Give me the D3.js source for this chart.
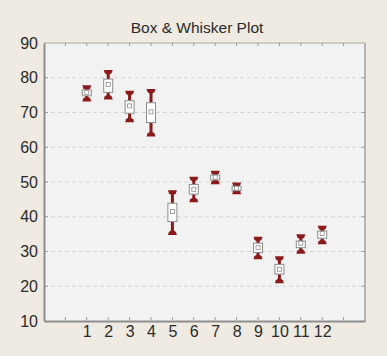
<!DOCTYPE html>
<html>
<head>
<meta charset="utf-8">
<script src="https://cdn.jsdelivr.net/npm/d3@7"></script>
<style>
  html, body { margin: 0; padding: 0; background: #EFEBE2; }
  svg { display: block; }
  text { font-family: "Liberation Sans", Arial, sans-serif; }
</style>
</head>
<body>
<svg id="chart" width="387" height="356"></svg>
<script>
// Groups and their five-number summaries
const groups      = [1, 2, 3, 4, 5, 6, 7, 8, 9, 10, 11, 12];
const whiskerLow  = [73.6, 74.2, 67.6, 63.5, 35.2, 44.6, 49.8, 46.9, 28.2, 21.3, 29.8, 32.5];
const boxLow      = [74.8, 75.8, 69.8, 67.1, 38.6, 46.5, 50.6, 47.5, 29.7, 23.5, 31.1, 33.8];
const medians     = [75.8, 78.1, 71.9, 70.2, 41.5, 47.9, 51.4, 48.2, 31.1, 24.9, 32.4, 35.2];
const boxHigh     = [76.5, 79.6, 73.4, 72.8, 43.9, 49.3, 52.0, 48.8, 32.4, 26.3, 33.0, 35.9];
const whiskerHigh = [77.4, 81.8, 75.8, 76.3, 47.2, 51.1, 52.8, 49.4, 33.8, 28.2, 34.5, 37.0];
const yTicks      = [10, 20, 30, 40, 50, 60, 70, 80, 90];
const xTicks      = [0, 1, 2, 3, 4, 5, 6, 7, 8, 9, 10, 11, 12, 13];

const title = "Box & Whisker Plot";

const svg = d3.select("#chart");
const L = 44, R = 365, T = 43, B = 321;

const x = d3.scaleLinear().domain([-1, 14]).range([L, R]);
const y = d3.scaleLinear().domain([10, 90]).range([B, T]);

// plot area
svg.append("rect")
  .attr("x", L).attr("y", T).attr("width", R - L).attr("height", B - T)
  .attr("fill", "#F2F2F2");

// horizontal dashed grid
svg.append("g").selectAll("line")
  .data(yTicks.filter(v => v > 10 && v < 90))
  .join("line")
  .attr("x1", L).attr("x2", R)
  .attr("y1", d => y(d)).attr("y2", d => y(d))
  .attr("stroke", "#D4D4D4").attr("stroke-width", 1)
  .attr("stroke-dasharray", "4,3");

// frame: top and right lighter, axes heavier
svg.append("line").attr("x1", L).attr("x2", R).attr("y1", T).attr("y2", T)
  .attr("stroke", "#A8A8A8").attr("stroke-width", 1);
svg.append("line").attr("x1", R).attr("x2", R).attr("y1", T).attr("y2", B)
  .attr("stroke", "#A0A0A0").attr("stroke-width", 1.5);

// axes
const yAxis = d3.axisLeft(y).tickValues(yTicks).tickSize(0).tickPadding(6);
const gy = svg.append("g").attr("transform", `translate(${L},0)`).call(yAxis);
gy.select(".domain").attr("stroke", "#8E8E8E").attr("stroke-width", 2);
gy.selectAll("text").attr("font-size", 16).attr("fill", "#2A2A2A");

const xAxis = d3.axisBottom(x).tickValues(xTicks)
  .tickFormat(d => (d >= 1 && d <= 12) ? String(d) : "")
  .tickSize(0).tickPadding(5);
const gx = svg.append("g").attr("transform", `translate(0,${B})`).call(xAxis);
gx.select(".domain").attr("stroke", "#8E8E8E").attr("stroke-width", 2);
gx.selectAll("text").attr("font-size", 16).attr("fill", "#2A2A2A");

// small inward tick marks on all four sides
const tickCol = "#9A9A9A";
svg.append("g").selectAll("line").data(xTicks).join("line")
  .attr("x1", d => x(d)).attr("x2", d => x(d))
  .attr("y1", B - 1).attr("y2", B - 4)
  .attr("stroke", tickCol);
svg.append("g").selectAll("line").data(xTicks).join("line")
  .attr("x1", d => x(d)).attr("x2", d => x(d))
  .attr("y1", T).attr("y2", T + 3)
  .attr("stroke", tickCol);
svg.append("g").selectAll("line").data(yTicks.slice(1, -1)).join("line")
  .attr("x1", L + 1).attr("x2", L + 4)
  .attr("y1", d => y(d)).attr("y2", d => y(d))
  .attr("stroke", tickCol);
svg.append("g").selectAll("line").data(yTicks.slice(1, -1)).join("line")
  .attr("x1", R - 3).attr("x2", R)
  .attr("y1", d => y(d)).attr("y2", d => y(d))
  .attr("stroke", tickCol);

// title
svg.append("text")
  .attr("x", 197).attr("y", 33)
  .attr("text-anchor", "middle")
  .attr("font-size", 15.5).attr("fill", "#2A2A2A")
  .text(title);

// boxes and whiskers
const rows = groups.map((g, i) => ({
  g, wl: whiskerLow[i], bl: boxLow[i], md: medians[i], bh: boxHigh[i], wh: whiskerHigh[i]
}));
const red = "#8B1A1A";
const boxW = 9, capW = 9;

const item = svg.append("g").selectAll("g").data(rows).join("g")
  .attr("transform", d => `translate(${x(d.g)},0)`);

// whisker stems
item.append("line")
  .attr("x1", 0).attr("x2", 0)
  .attr("y1", d => y(d.wh)).attr("y2", d => y(d.bh))
  .attr("stroke", red).attr("stroke-width", 3);
item.append("line")
  .attr("x1", 0).attr("x2", 0)
  .attr("y1", d => y(d.bl)).attr("y2", d => y(d.wl))
  .attr("stroke", red).attr("stroke-width", 3);

// caps (flared ends)
item.append("path")
  .attr("d", d => {
    const yy = y(d.wh);
    return `M${-capW / 2},${yy - 1.5} L${capW / 2},${yy - 1.5} L${capW / 2 - 1},${yy + 1.5} L1.5,${yy + 3} L-1.5,${yy + 3} L${-capW / 2 + 1},${yy + 1.5} Z`;
  })
  .attr("fill", red);
item.append("path")
  .attr("d", d => {
    const yy = y(d.wl);
    return `M${-capW / 2},${yy + 1.5} L${capW / 2},${yy + 1.5} L${capW / 2 - 1},${yy - 1.5} L1.5,${yy - 3} L-1.5,${yy - 3} L${-capW / 2 + 1},${yy - 1.5} Z`;
  })
  .attr("fill", red);

// box
item.append("rect")
  .attr("x", -boxW / 2).attr("width", boxW)
  .attr("y", d => y(d.bh)).attr("height", d => y(d.bl) - y(d.bh))
  .attr("fill", "#FFFFFF").attr("stroke", "#8C8C8C").attr("stroke-width", 1);

// median marker
item.append("rect")
  .attr("x", -2).attr("width", 4)
  .attr("y", d => y(d.md) - 2).attr("height", 4)
  .attr("fill", "#FFFFFF").attr("stroke", "#8C8C8C").attr("stroke-width", 0.8);
</script>
</body>
</html>
